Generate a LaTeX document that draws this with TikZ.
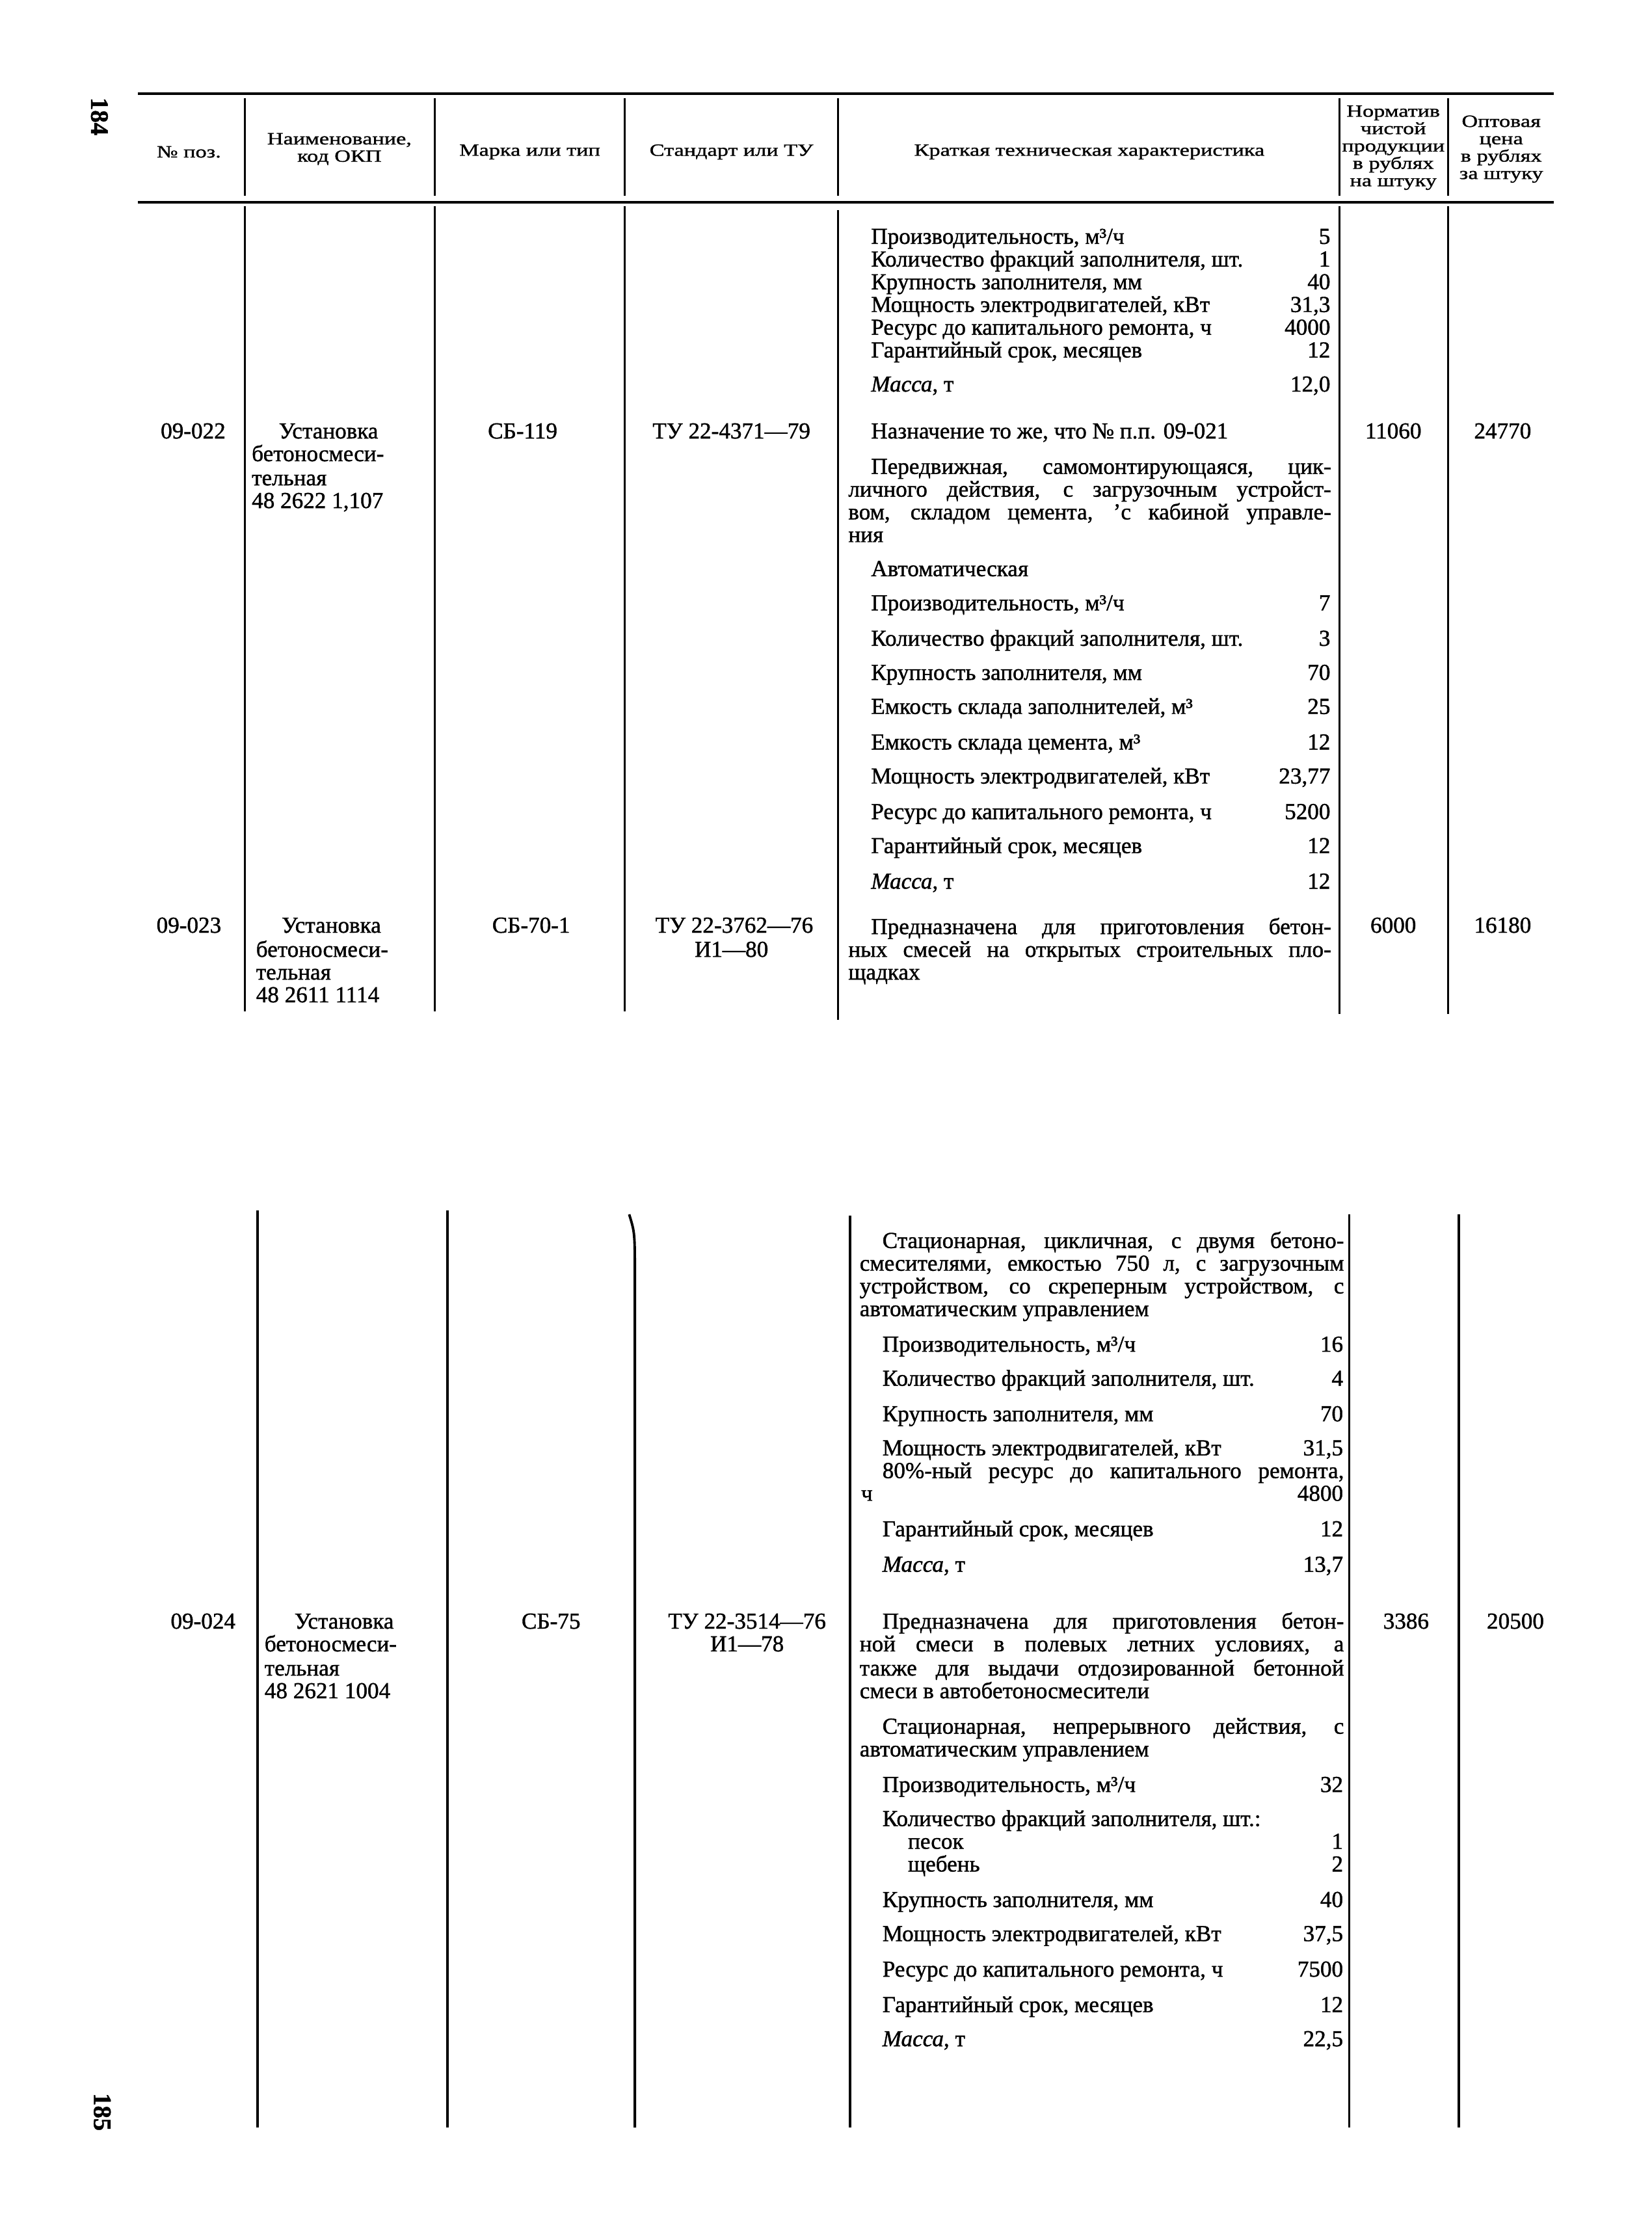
\documentclass[tikz,border=0pt]{standalone}
\usepackage{fontspec}
\setmainfont[FakeBold=1.2]{Liberation Serif}
\newfontfamily\headfont[FakeStretch=1.3,FakeBold=1.2]{Liberation Serif}
\newlength\ux
\setlength\ux{0.2184mm}
\tikzstyle{head}=[inner sep=0pt, align=center, font=\headfont\fontsize{7.5}{7.6}\selectfont]
\tikzstyle{txt}=[inner sep=0pt, font=\fontsize{10}{10}\selectfont]
\tikzstyle{spec}=[txt, anchor=mid west]
\tikzstyle{val}=[txt, anchor=mid east]
\tikzstyle{ctr}=[txt, anchor=mid]
\tikzstyle{pnum}=[inner sep=0pt, rotate=-90, font=\bfseries\fontsize{11}{11}\selectfont]
\tikzstyle{hrule}=[line width=1pt]
\tikzstyle{colline}=[line width=0.8pt]
\tikzstyle{colthick}=[line width=1.1pt]

\begin{document}
\begin{tikzpicture}[x=0.2184mm, y=-0.2184mm]
\fill[white] (0,0) rectangle (1163,1568);
\useasboundingbox (0,0) rectangle (1163,1568);

% page 184
\draw (70,82) node[pnum] (pg184) {184};
\draw[hrule] (97,66) -- (1094,66);
\draw[hrule] (97,142.5) -- (1094,142.5);
\draw[colline] (172.5,69) -- (172.5,138);
\draw[colline] (306,69) -- (306,138);
\draw[colline] (440,69) -- (440,138);
\draw[colline] (590,69) -- (590,138);
\draw[colline] (943,69) -- (943,138);
\draw[colline] (1019.5,69) -- (1019.5,138);

\draw (133,107) node[head] (hd1) {№ поз.};
\draw (239,105) node[head] (hd2) {Наименование,\\код ОКП};
\draw (373,107) node[head] (hd3) {Марка или тип};
\draw (515,107) node[head] (hd4) {Стандарт или ТУ};
\draw (767,107) node[head] (hd5) {Краткая техническая  характеристика};
\draw (981,104) node[head] (hd6) {Норматив\\чистой\\продукции\\в рублях\\на штуку};
\draw (1057,105) node[head] (hd7) {Оптовая\\цена\\в рублях\\за штуку};

\draw[colline] (172.5,145) -- (172.5,712);
\draw[colline] (306,145) -- (306,712);
\draw[colline] (440,145) -- (440,712);
\draw[colline] (590,148) -- (590,718);
\draw[colline] (943,145) -- (943,714);
\draw[colline] (1019.5,145) -- (1019.5,714);

% 09-021 tail
\draw (613,168) node[spec] (a1) {Производительность, м³/ч};
\draw (937,168) node[val] (a1v) {5};
\draw (613,184) node[spec] (a2) {Количество фракций заполнителя, шт.};
\draw (937,184) node[val] (a2v) {1};
\draw (613,200) node[spec] (a3) {Крупность заполнителя, мм};
\draw (937,200) node[val] (a3v) {40};
\draw (613,216) node[spec] (a4) {Мощность электродвигателей, кВт};
\draw (937,216) node[val] (a4v) {31,3};
\draw (613,232) node[spec] (a5) {Ресурс до капитального ремонта, ч};
\draw (937,232) node[val] (a5v) {4000};
\draw (613,248) node[spec] (a6) {Гарантийный срок, месяцев};
\draw (937,248) node[val] (a6v) {12};
\draw (613,272) node[spec] (a7) {\textit{Масса}, т};
\draw (937,272) node[val] (a7v) {12,0};

% 09-022
\draw (136,305) node[ctr] (n22) {09-022};
\draw (196,305) node[spec] (n22a) {Установка};
\draw (177,321) node[spec] (n22b) {бетоносмеси-};
\draw (177,338) node[spec] (n22c) {тельная};
\draw (177,354) node[spec] (n22d) {48 2622 1,107};
\draw (368,305) node[ctr] (m22) {СБ-119};
\draw (515,305) node[ctr] (s22) {ТУ 22-4371—79};
\draw (981,305) node[ctr] (q22) {11060};
\draw (1058,305) node[ctr] (p22) {24770};
\draw (613,305) node[spec] (b0) {Назначение то же, что № п.п. 09-021};
\draw (613,330) node[spec] (b1) {\hbox to 324\ux{Передвижная,  самомонтирующаяся, цик-}};
\draw (597,346) node[spec] (b2) {\hbox to 340\ux{личного действия, с загрузочным  устройст-}};
\draw (597,362) node[spec] (b3) {\hbox to 340\ux{вом, складом цемента, 'с кабиной управле-}};
\draw (597,378) node[spec] (b4) {ния};
\draw (613,402) node[spec] (b5) {Автоматическая};
\draw (613,426) node[spec] (c1) {Производительность, м³/ч};
\draw (937,426) node[val] (c1v) {7};
\draw (613,451) node[spec] (c2) {Количество фракций заполнителя, шт.};
\draw (937,451) node[val] (c2v) {3};
\draw (613,475) node[spec] (c3) {Крупность заполнителя, мм};
\draw (937,475) node[val] (c3v) {70};
\draw (613,499) node[spec] (c4) {Емкость склада заполнителей, м³};
\draw (937,499) node[val] (c4v) {25};
\draw (613,524) node[spec] (c5) {Емкость склада цемента, м³};
\draw (937,524) node[val] (c5v) {12};
\draw (613,548) node[spec] (c6) {Мощность электродвигателей, кВт};
\draw (937,548) node[val] (c6v) {23,77};
\draw (613,573) node[spec] (c7) {Ресурс до капитального ремонта, ч};
\draw (937,573) node[val] (c7v) {5200};
\draw (613,597) node[spec] (c8) {Гарантийный срок, месяцев};
\draw (937,597) node[val] (c8v) {12};
\draw (613,622) node[spec] (c9) {\textit{Масса}, т};
\draw (937,622) node[val] (c9v) {12};

% 09-023
\draw (133,653) node[ctr] (n23) {09-023};
\draw (198,653) node[spec] (n23a) {Установка};
\draw (180,670) node[spec] (n23b) {бетоносмеси-};
\draw (180,686) node[spec] (n23c) {тельная};
\draw (180,702) node[spec] (n23d) {48 2611 1114};
\draw (374,653) node[ctr] (m23) {СБ-70-1};
\draw (517,653) node[ctr] (s23) {ТУ 22-3762—76};
\draw (515,670) node[ctr] (s23b) {И1—80};
\draw (981,653) node[ctr] (q23) {6000};
\draw (1058,653) node[ctr] (p23) {16180};
\draw (613,654) node[spec] (d1) {\hbox to 324\ux{Предназначена для приготовления бетон-}};
\draw (597,670) node[spec] (d2) {\hbox to 340\ux{ных смесей на открытых строительных пло-}};
\draw (597,686) node[spec] (d3) {щадках};

% page 185
\draw (72,1487) node[pnum] (pg185) {185};
\draw[colthick] (181.5,852) -- (181.5,1498);
\draw[colthick] (315,852) -- (315,1498);
\draw[colthick] (443,855) .. controls (447,868) .. (447,900) -- (447,1498);
\draw[colthick] (598.5,856) -- (598.5,1498);
\draw[colthick] (950,855) -- (950,1498);
\draw[colthick] (1027,855) -- (1027,1498);

\draw (621,875) node[spec] (e1) {\hbox to 325\ux{Стационарная, цикличная, с двумя бетоно-}};
\draw (605,891) node[spec] (e2) {\hbox to 341\ux{смесителями, емкостью 750 л, с загрузочным}};
\draw (605,907) node[spec] (e3) {\hbox to 341\ux{устройством, со скреперным устройством, с}};
\draw (605,923) node[spec] (e4) {автоматическим управлением};
\draw (621,948) node[spec] (f1) {Производительность, м³/ч};
\draw (946,948) node[val] (f1v) {16};
\draw (621,972) node[spec] (f2) {Количество фракций заполнителя, шт.};
\draw (946,972) node[val] (f2v) {4};
\draw (621,997) node[spec] (f3) {Крупность заполнителя, мм};
\draw (946,997) node[val] (f3v) {70};
\draw (621,1021) node[spec] (f4) {Мощность электродвигателей, кВт};
\draw (946,1021) node[val] (f4v) {31,5};
\draw (621,1037) node[spec] (f5) {\hbox to 325\ux{80\%-ный ресурс до капитального ремонта,}};
\draw (606,1053) node[spec] (f6) {ч};
\draw (946,1053) node[val] (f6v) {4800};
\draw (621,1078) node[spec] (f7) {Гарантийный срок, месяцев};
\draw (946,1078) node[val] (f7v) {12};
\draw (621,1103) node[spec] (f8) {\textit{Масса}, т};
\draw (946,1103) node[val] (f8v) {13,7};

% 09-024
\draw (143,1143) node[ctr] (n24) {09-024};
\draw (207,1143) node[spec] (n24a) {Установка};
\draw (186,1159) node[spec] (n24b) {бетоносмеси-};
\draw (186,1176) node[spec] (n24c) {тельная};
\draw (186,1192) node[spec] (n24d) {48 2621 1004};
\draw (388,1143) node[ctr] (m24) {СБ-75};
\draw (526,1143) node[ctr] (s24) {ТУ 22-3514—76};
\draw (526,1159) node[ctr] (s24b) {И1—78};
\draw (990,1143) node[ctr] (q24) {3386};
\draw (1067,1143) node[ctr] (p24) {20500};
\draw (621,1143) node[spec] (g1) {\hbox to 325\ux{Предназначена для приготовления  бетон-}};
\draw (605,1159) node[spec] (g2) {\hbox to 341\ux{ной смеси в полевых  летних  условиях, а}};
\draw (605,1176) node[spec] (g3) {\hbox to 341\ux{также для выдачи отдозированной бетонной}};
\draw (605,1192) node[spec] (g4) {смеси в автобетоносмесители};
\draw (621,1217) node[spec] (g5) {\hbox to 325\ux{Стационарная, непрерывного  действия, с}};
\draw (605,1233) node[spec] (g6) {автоматическим управлением};
\draw (621,1258) node[spec] (h1) {Производительность, м³/ч};
\draw (946,1258) node[val] (h1v) {32};
\draw (621,1282) node[spec] (h2) {Количество фракций заполнителя, шт.:};
\draw (639,1298) node[spec] (h3) {песок};
\draw (946,1298) node[val] (h3v) {1};
\draw (639,1314) node[spec] (h4) {щебень};
\draw (946,1314) node[val] (h4v) {2};
\draw (621,1339) node[spec] (h5) {Крупность заполнителя, мм};
\draw (946,1339) node[val] (h5v) {40};
\draw (621,1363) node[spec] (h6) {Мощность электродвигателей, кВт};
\draw (946,1363) node[val] (h6v) {37,5};
\draw (621,1388) node[spec] (h7) {Ресурс до капитального ремонта, ч};
\draw (946,1388) node[val] (h7v) {7500};
\draw (621,1413) node[spec] (h8) {Гарантийный срок, месяцев};
\draw (946,1413) node[val] (h8v) {12};
\draw (621,1437) node[spec] (h9) {\textit{Масса}, т};
\draw (946,1437) node[val] (h9v) {22,5};
\end{tikzpicture}
\end{document}
